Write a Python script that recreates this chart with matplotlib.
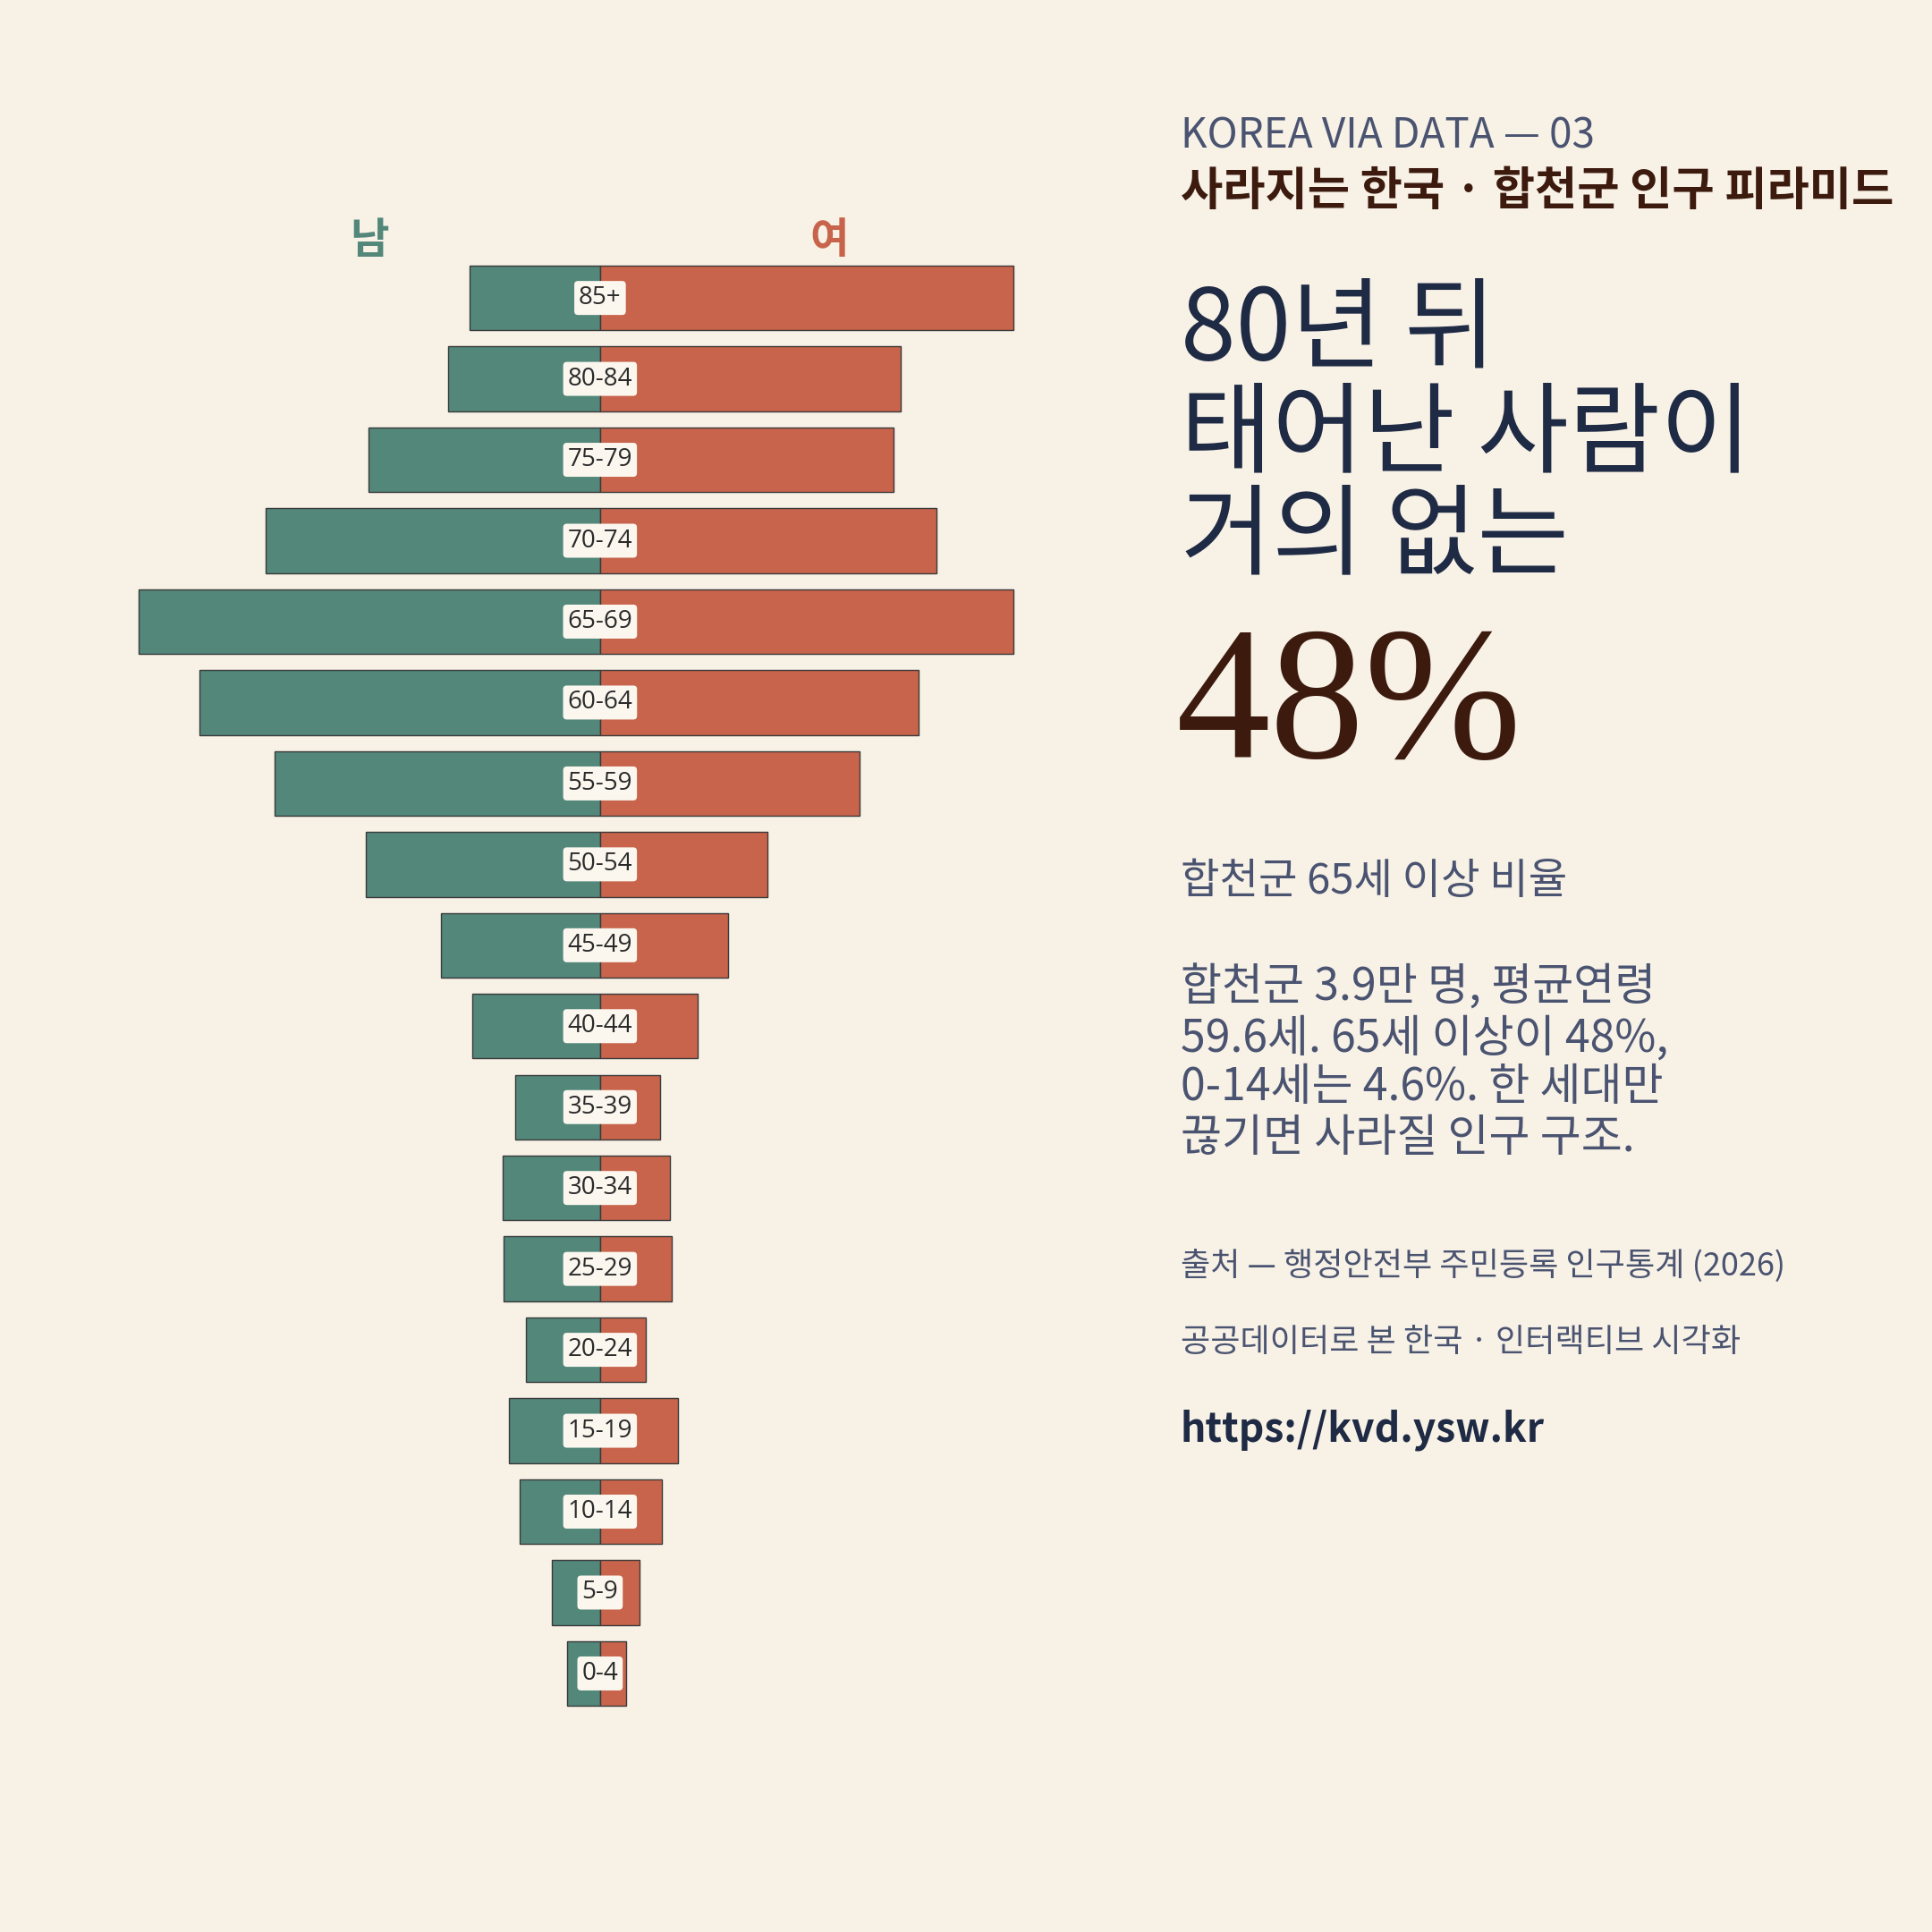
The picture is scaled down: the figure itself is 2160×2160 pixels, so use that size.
import matplotlib
matplotlib.use("Agg")
import matplotlib.pyplot as plt

ages = ["85+","80-84","75-79","70-74","65-69","60-64","55-59","50-54","45-49","40-44",
        "35-39","30-34","25-29","20-24","15-19","10-14","5-9","0-4"]
male = [785,910,1390,2010,2770,2405,1955,1405,955,770,510,585,577,444,548,481,289,200]
female = [2480,1805,1760,2020,2480,1915,1560,1005,770,585,363,422,429,274,466,370,237,155]

BG = "#f7f1e6"
GREEN = "#52877a"
ORANGE = "#c8644b"
F = ["Noto Sans CJK KR", "DejaVu Sans"]

fig = plt.figure(figsize=(10.8, 10.8), dpi=200, facecolor=BG)
H = 1568.0
def fy(y): return 1 - y / H
def fx(x): return x / H

ax = fig.add_axes([0, 1 - 1391 / H, 940 / H, (1391 - 209) / H])
ax.set_facecolor(BG)
s = 7.4
ax.set_xlim(-487 * s, 453 * s)
ax.set_ylim(len(ages) - 0.5, -0.5)
y = list(range(len(ages)))
ax.barh(y, [-m for m in male], height=0.8, color=GREEN, edgecolor="#3a3a3a", linewidth=0.5)
ax.barh(y, female, height=0.8, color=ORANGE, edgecolor="#3a3a3a", linewidth=0.5)
for i, a in enumerate(ages):
    ax.text(0, i, a, ha="center", va="center", fontsize=10, color="#2a2a2a", family=["Open Sans", "DejaVu Sans"],
            bbox=dict(boxstyle="round,pad=0.18,rounding_size=0.15", fc="#fbf7ef", ec="none"))
ax.axis("off")

fig.text(fx(300), fy(195), "남", ha="center", va="center", fontsize=17, weight="bold", color=GREEN, family=F)
fig.text(fx(673), fy(195), "여", ha="center", va="center", fontsize=17, weight="bold", color=ORANGE, family=F)

X = fx(958)
fig.text(X, fy(120), "KOREA VIA DATA — 03", fontsize=16.5, color="#4a5370", family=F, va="baseline")
fig.text(X, fy(166), "사라지는 한국 · 합천군 인구 피라미드", fontsize=18.5, weight="bold", color="#3d1a0e", family=F, va="baseline")
for t, b in [("80년 뒤", 292), ("태어난 사람이", 377), ("거의 없는", 460)]:
    fig.text(X, fy(b), t, fontsize=40, color="#1f2a44", family=F, va="baseline")
fig.text(X - 0.002, fy(615), "48%", fontsize=76, color="#3d1a0e", family=["Liberation Serif", "DejaVu Serif"], va="baseline")
fig.text(X, fy(725), "합천군 65세 이상 비율", fontsize=17, color="#4a5370", family=F, va="baseline")
for t, b in [("합천군 3.9만 명, 평균연령", 812), ("59.6세. 65세 이상이 48%,", 853),
             ("0-14세는 4.6%. 한 세대만", 893), ("끊기면 사라질 인구 구조.", 934)]:
    fig.text(X, fy(b), t, fontsize=18, color="#4a5370", family=F, va="baseline")
fig.text(X, fy(1035), "출처 — 행정안전부 주민등록 인구통계 (2026)", fontsize=13, color="#4a5370", family=F, va="baseline")
fig.text(X, fy(1097), "공공데이터로 본 한국 · 인터랙티브 시각화", fontsize=13, color="#4a5370", family=F, va="baseline")
fig.text(X, fy(1170), "https://kvd.ysw.kr", fontsize=16, weight="bold", color="#1f2a44", family=F, va="baseline")

fig.savefig("out.png", dpi=200, facecolor=BG)
